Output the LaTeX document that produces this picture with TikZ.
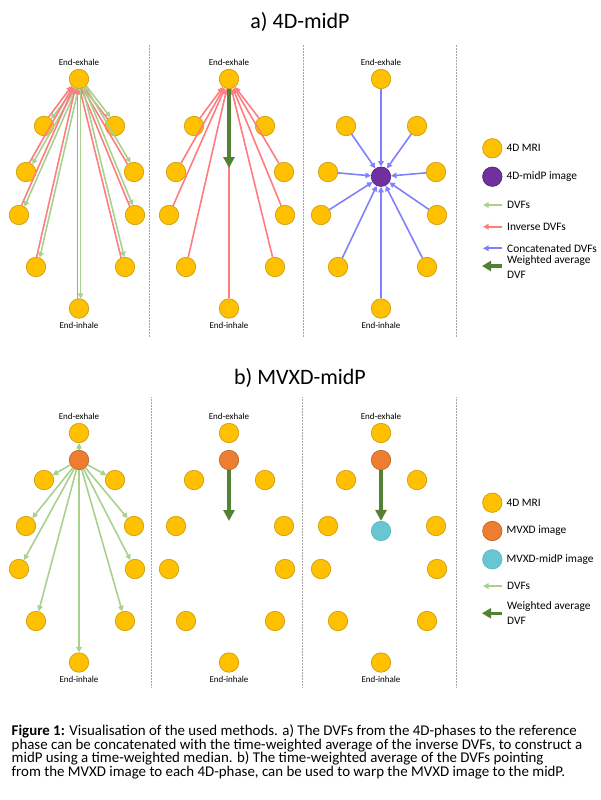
\documentclass[tikz,border=0pt]{standalone}
\usepackage{fontspec}
\setmainfont{Carlito}
\usepackage{xcolor}
\usepackage{tikz}
\usetikzlibrary{arrows.meta,calc,positioning}

\definecolor{mriyellow}{HTML}{FFC000}
\definecolor{mriborder}{HTML}{C99A06}
\definecolor{midpurple}{HTML}{7030A0}
\definecolor{midborder}{HTML}{4E2070}
\definecolor{mvxdorange}{HTML}{ED7D31}
\definecolor{mvxdborder}{HTML}{B85E22}
\definecolor{warpcyan}{HTML}{68C6D3}
\definecolor{warpborder}{HTML}{58B8C6}
\definecolor{dvfgreen}{HTML}{A9D18E}
\definecolor{invred}{HTML}{FF7C80}
\definecolor{catblue}{HTML}{8080FF}
\definecolor{avggreen}{HTML}{548235}
\definecolor{divgray}{HTML}{A6A6A6}

\tikzset{
  blob/.style={circle, minimum size=19.5pt, inner sep=0pt, line width=0.6pt},
  mri/.style={blob, fill=mriyellow, draw=mriborder},
  midp/.style={blob, fill=midpurple, draw=midborder},
  mvxd/.style={blob, fill=mvxdorange, draw=mvxdborder},
  warped/.style={blob, fill=warpcyan, draw=warpborder},
  thin arrow/.style={line width=1.6pt, -{Triangle[length=5.5pt,width=5.5pt]}},
  dvf/.style={thin arrow, draw=dvfgreen},
  inv/.style={thin arrow, draw=invred},
  cat/.style={thin arrow, draw=catblue},
  wavg/.style={draw=avggreen, line width=3.2pt, -{Triangle[length=11pt,width=11pt]}},
  phase/.style={font=\fontsize{9}{10}\selectfont, inner sep=0pt},
  lgtext/.style={font=\fontsize{11.4}{14.7}\selectfont, inner sep=1pt, anchor=west, align=left},
  title/.style={font=\fontsize{22}{26}\selectfont, anchor=base},
  divider/.style={draw=divgray, line width=0.8pt, dash pattern=on 0.8pt off 0.7pt}
}

\begin{document}
\begin{tikzpicture}[x=1pt,y=-1pt]
\useasboundingbox (0,0) rectangle (600,800);
% Tiêu đề
\node[title] (ta) at (300,29) {a) 4D-midP};
\node[title] (tb) at (300,384) {b) MVXD-midP};
% Đường chia
\foreach \x in {149.5,303,456.5}
  \draw[divider] (\x,45) -- (\x,337);
\foreach \x in {151,302.7,456.5}
  \draw[divider] (\x,397) -- (\x,687);
% Các pha 4D
\foreach \p/\cx/\cy in {dvf/79/79, inv/229/79, cat/381/79, mv/79/433, avg/229/433, warp/381/433}{
  \foreach \dx/\dy [count=\i from 0] in {0/0,-35/47,36/47,-53/93,55/93,-60/136,56/136,-43/188,46/188,0/229.5}
    \node[mri] (\p\i) at ({\cx+\dx},{\cy+\dy}) {};
  \node[phase, above=3pt of \p0] (\p-ex) {End-exhale};
  \node[phase, below=3pt of \p9] (\p-in) {End-inhale};
}
% a) DVFs và inverse DVFs
\foreach \i in {1,...,9}{
  \draw[dvf, shorten <=9.7pt, shorten >=9.7pt] ($(dvf0)!1.6pt!90:(dvf\i)$) -- ($(dvf\i)!1.6pt!-90:(dvf0)$);
  \draw[inv, shorten <=9.7pt, shorten >=9.7pt] ($(dvf\i)!1.6pt!90:(dvf0)$) -- ($(dvf0)!1.6pt!-90:(dvf\i)$);
}
\foreach \i in {1,...,9}
  \draw[inv] (inv\i) -- (inv0);
\coordinate (inv-end) at (229,168);
\draw[wavg] (inv0) -- (inv-end);
\node[midp] (cat-mid) at (381,176.7) {};
\foreach \i in {0,...,9}
  \draw[cat] (cat\i) -- (cat-mid);
% b) MVXD
\node[mvxd] (mv-mid) at (79,460) {};
\foreach \i in {0,...,9}
  \draw[dvf] (mv-mid) -- (mv\i);
\node[mvxd] (avg-mid) at (229,460) {};
\coordinate (avg-end) at (229,521);
\draw[wavg] (avg-mid) -- (avg-end);
\node[mvxd] (warp-mid) at (381,460) {};
\node[warped] (warp-res) at (381,531) {};
\draw[wavg] (warp-mid) -- (warp-res);
% Chú thích a
\node[mri] (la-mri) at (492.3,148.3) {};
\node[lgtext, right=3pt of la-mri] (la-mri-t) {4D MRI};
\node[midp] (la-mid) at (492.3,176.7) {};
\node[lgtext, right=3pt of la-mid] (la-mid-t) {4D-midP image};
\foreach \y/\s/\t in {205/dvf/DVFs, 226.7/inv/Inverse DVFs, 248.3/cat/Concatenated DVFs}{
  \coordinate (la-\s-a) at (502,\y);
  \coordinate (la-\s-b) at (483,\y);
  \draw[\s, line width=2pt] (la-\s-a) -- (la-\s-b);
  \node[lgtext] (la-\s-t) at (506,\y) {\t};
}
\coordinate (la-avg-a) at (502,266);
\coordinate (la-avg-b) at (482,266);
\draw[wavg, -{Triangle[length=9pt,width=10pt]}] (la-avg-a) -- (la-avg-b);
\node[lgtext] (la-avg-t) at (506,266.7) {Weighted average\\DVF};
% Chú thích b
\node[mri] (lb-mri) at (492.3,502.7) {};
\node[lgtext, right=3pt of lb-mri] (lb-mri-t) {4D MRI};
\node[mvxd] (lb-mv) at (492.3,531) {};
\node[lgtext, right=3pt of lb-mv] (lb-mv-t) {MVXD image};
\node[warped] (lb-warp) at (492.3,559.3) {};
\node[lgtext, right=3pt of lb-warp] (lb-warp-t) {MVXD-midP image};
\coordinate (lb-dvf-a) at (502,586);
\coordinate (lb-dvf-b) at (483,586);
\draw[dvf, line width=2pt] (lb-dvf-a) -- (lb-dvf-b);
\node[lgtext] (lb-dvf-t) at (506,586) {DVFs};
\coordinate (lb-avg-a) at (502,613.3);
\coordinate (lb-avg-b) at (482,613.3);
\draw[wavg, -{Triangle[length=9pt,width=10pt]}] (lb-avg-a) -- (lb-avg-b);
\node[lgtext] (lb-avg-t) at (506,613.3) {Weighted average\\DVF};
% Chú thích hình
\node[anchor=north west, align=left, inner sep=0pt, font=\fontsize{14.9}{13.5}\selectfont] (caption) at (11.5,724.5) {%
\textbf{Figure 1:} Visualisation of the used methods. a) The DVFs from the 4D-phases to the reference\\
phase can be concatenated with the time-weighted average of the inverse DVFs, to construct a\\
midP using a time-weighted median. b) The time-weighted average of the DVFs pointing\\
from the MVXD image to each 4D-phase, can be used to warp the MVXD image to the midP.};
\end{tikzpicture}
\end{document}
